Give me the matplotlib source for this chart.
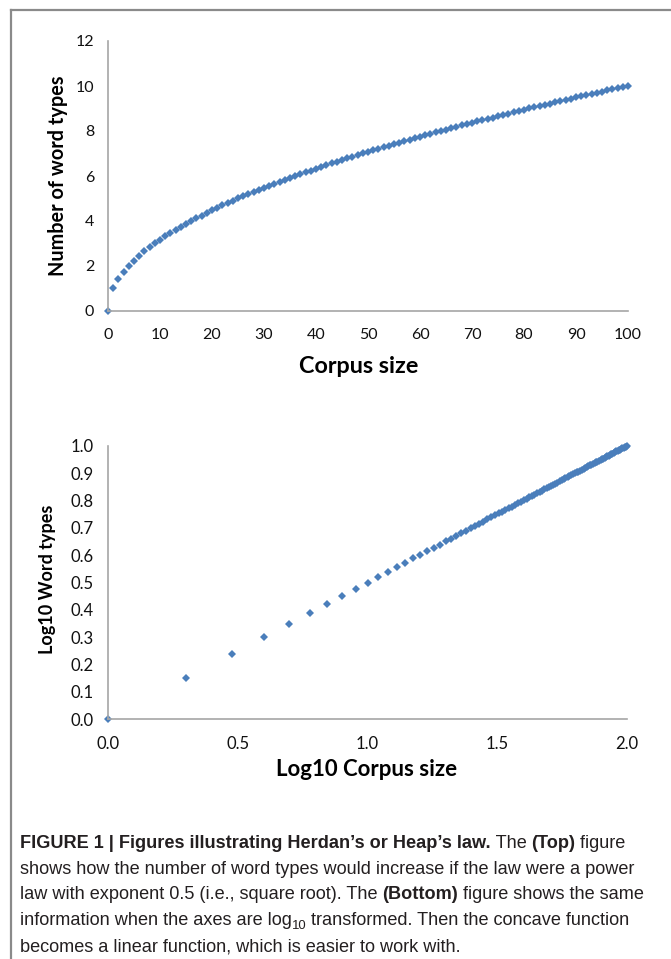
import matplotlib
matplotlib.use("Agg")
import matplotlib.pyplot as plt
from matplotlib.lines import Line2D

# ---------------- data ----------------
corpus_size = list(range(0, 101))
word_types = [0, 1, 1.41, 1.73, 2, 2.24, 2.45, 2.65, 2.83, 3,
              3.16, 3.32, 3.46, 3.61, 3.74, 3.87, 4, 4.12, 4.24, 4.36,
              4.47, 4.58, 4.69, 4.80, 4.90, 5, 5.10, 5.20, 5.29, 5.39,
              5.48, 5.57, 5.66, 5.74, 5.83, 5.92, 6, 6.08, 6.16, 6.24,
              6.32, 6.40, 6.48, 6.56, 6.63, 6.71, 6.78, 6.86, 6.93, 7,
              7.07, 7.14, 7.21, 7.28, 7.35, 7.42, 7.48, 7.55, 7.62, 7.68,
              7.75, 7.81, 7.87, 7.94, 8, 8.06, 8.12, 8.19, 8.25, 8.31,
              8.37, 8.43, 8.49, 8.54, 8.60, 8.66, 8.72, 8.77, 8.83, 8.89,
              8.94, 9, 9.06, 9.11, 9.17, 9.22, 9.27, 9.33, 9.38, 9.43,
              9.49, 9.54, 9.59, 9.64, 9.70, 9.75, 9.80, 9.85, 9.90, 9.95,
              10]

log_corpus = [0, 0.301, 0.477, 0.602, 0.699, 0.778, 0.845, 0.903, 0.954, 1,
              1.041, 1.079, 1.114, 1.146, 1.176, 1.204, 1.230, 1.255, 1.279, 1.301,
              1.322, 1.342, 1.362, 1.380, 1.398, 1.415, 1.431, 1.447, 1.462, 1.477,
              1.491, 1.505, 1.519, 1.531, 1.544, 1.556, 1.568, 1.580, 1.591, 1.602,
              1.613, 1.623, 1.633, 1.643, 1.653, 1.663, 1.672, 1.681, 1.690, 1.699,
              1.708, 1.716, 1.724, 1.732, 1.740, 1.748, 1.756, 1.763, 1.771, 1.778,
              1.785, 1.792, 1.799, 1.806, 1.813, 1.820, 1.826, 1.833, 1.839, 1.845,
              1.851, 1.857, 1.863, 1.869, 1.875, 1.881, 1.886, 1.892, 1.898, 1.903,
              1.908, 1.914, 1.919, 1.924, 1.929, 1.934, 1.940, 1.944, 1.949, 1.954,
              1.959, 1.964, 1.968, 1.973, 1.978, 1.982, 1.987, 1.991, 1.996, 2]
log_types = [0, 0.151, 0.239, 0.301, 0.349, 0.389, 0.423, 0.452, 0.477, 0.5,
             0.521, 0.540, 0.557, 0.573, 0.588, 0.602, 0.615, 0.628, 0.639, 0.651,
             0.661, 0.671, 0.681, 0.690, 0.699, 0.707, 0.716, 0.723, 0.731, 0.739,
             0.746, 0.753, 0.759, 0.766, 0.772, 0.778, 0.784, 0.790, 0.796, 0.801,
             0.806, 0.812, 0.817, 0.822, 0.827, 0.831, 0.836, 0.841, 0.845, 0.849,
             0.854, 0.858, 0.862, 0.866, 0.870, 0.874, 0.878, 0.882, 0.885, 0.889,
             0.893, 0.896, 0.900, 0.903, 0.906, 0.910, 0.913, 0.916, 0.919, 0.923,
             0.926, 0.929, 0.932, 0.935, 0.938, 0.940, 0.943, 0.946, 0.949, 0.952,
             0.954, 0.957, 0.960, 0.962, 0.965, 0.967, 0.970, 0.972, 0.975, 0.977,
             0.980, 0.982, 0.984, 0.987, 0.989, 0.991, 0.993, 0.996, 0.998, 1.0]

top_xticks = [0, 10, 20, 30, 40, 50, 60, 70, 80, 90, 100]
top_yticks = [0, 2, 4, 6, 8, 10, 12]
bot_xticks = [0.0, 0.5, 1.0, 1.5, 2.0]
bot_yticks = [0.0, 0.1, 0.2, 0.3, 0.4, 0.5, 0.6, 0.7, 0.8, 0.9, 1.0]

# ---------------- style ----------------
W, H = 671, 959
DPI = 100
BLUE = "#4a7ebb"
SPINE = "#a6a6a6"
CHART_FONT = ["Lato", "DejaVu Sans"]
CAP_FONT = ["Liberation Sans", "DejaVu Sans"]

fig = plt.figure(figsize=(W / DPI, H / DPI), dpi=DPI)
fig.patch.set_facecolor("white")


def px_rect(l, r, t, b):
    return [l / W, 1 - b / H, (r - l) / W, (b - t) / H]


def fx(px):
    return px / W


def fy(py):
    return 1 - py / H


def style_axes(ax, xticks, yticks, xfmt, yfmt, size):
    for s in ["top", "right"]:
        ax.spines[s].set_visible(False)
    for s in ["left", "bottom"]:
        ax.spines[s].set_color(SPINE)
        ax.spines[s].set_linewidth(1.2)
    ax.set_xticks(xticks)
    ax.set_yticks(yticks)
    ax.set_xticklabels([xfmt.format(v) for v in xticks])
    ax.set_yticklabels([yfmt.format(v) for v in yticks])
    ax.tick_params(length=0, labelsize=size, labelcolor="#111111")
    ax.tick_params(axis="x", pad=12)
    ax.tick_params(axis="y", pad=10)
    for lab in ax.get_xticklabels() + ax.get_yticklabels():
        lab.set_family(CHART_FONT)


# top chart
ax1 = fig.add_axes(px_rect(108, 628, 41, 311))
ax1.plot(corpus_size, word_types, linestyle="none", marker="D",
         markersize=4.5, color=BLUE, markeredgewidth=0, clip_on=False)
ax1.set_xlim(0, 100)
ax1.set_ylim(0, 12)
style_axes(ax1, top_xticks, top_yticks, "{:d}", "{:d}", 11.5)
fig.text(fx(359), fy(373), "Corpus size", fontsize=16.8, fontweight="bold",
         family=CHART_FONT, ha="center", va="baseline", color="#000000")
fig.text(fx(58), fy(176), "Number of word types", fontsize=14.3, fontweight="bold",
         family=CHART_FONT, ha="center", va="center", rotation=90,
         rotation_mode="anchor", color="#000000")

# bottom chart
ax2 = fig.add_axes(px_rect(108, 627, 446, 719))
ax2.plot(log_corpus, log_types, linestyle="none", marker="D",
         markersize=4.5, color=BLUE, markeredgewidth=0, clip_on=False)
ax2.set_xlim(0, 2)
ax2.set_ylim(0, 1)
style_axes(ax2, bot_xticks, bot_yticks, "{:.1f}", "{:.1f}", 12)
fig.text(fx(367), fy(776), "Log10 Corpus size", fontsize=16, fontweight="bold",
         family=CHART_FONT, ha="center", va="baseline", color="#000000")
fig.text(fx(48), fy(579), "Log10 Word types", fontsize=13, fontweight="bold",
         family=CHART_FONT, ha="center", va="center", rotation=90,
         rotation_mode="anchor", color="#000000")

# frame lines (top and left)
fig.add_artist(Line2D([fx(11), 1], [fy(10), fy(10)],
                      transform=fig.transFigure, color="#8a8a8a", lw=1.6))
fig.add_artist(Line2D([fx(11), fx(11)], [fy(10), 0],
                      transform=fig.transFigure, color="#8a8a8a", lw=1.6))

# caption with mixed runs
CAP_SIZE = 13.1
lines = [
    [("FIGURE 1 | Figures illustrating Herdan\u2019s or Heap\u2019s law.", "bold", 1.0, 0),
     (" The ", "normal", 1.0, 0), ("(Top)", "bold", 1.0, 0), (" figure", "normal", 1.0, 0)],
    [("shows how the number of word types would increase if the law were a power", "normal", 1.0, 0)],
    [("law with exponent 0.5 (i.e., square root). The ", "normal", 1.0, 0),
     ("(Bottom)", "bold", 1.0, 0), (" figure shows the same", "normal", 1.0, 0)],
    [("information when the axes are log", "normal", 1.0, 0), ("10", "normal", 0.72, -4),
     (" transformed. Then the concave function", "normal", 1.0, 0)],
    [("becomes a linear function, which is easier to work with.", "normal", 1.0, 0)],
]
baselines = [848, 874, 899, 925, 951]
fig.canvas.draw()
renderer = fig.canvas.get_renderer()
for runs, base in zip(lines, baselines):
    x = 20
    for text, weight, scale, dy in runs:
        t = fig.text(fx(x), fy(base - dy), text, fontsize=CAP_SIZE * scale,
                     fontweight=weight, family=CAP_FONT, color="#231f20",
                     ha="left", va="baseline")
        bb = t.get_window_extent(renderer)
        x += bb.width

fig.savefig("out.png", dpi=DPI, facecolor="white")
